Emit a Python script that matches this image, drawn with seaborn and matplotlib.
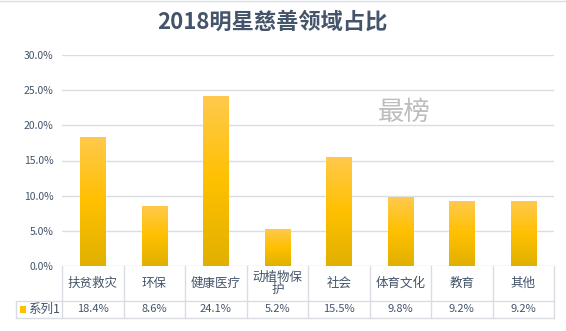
import numpy as np
import pandas as pd
import matplotlib
matplotlib.use("Agg")
import matplotlib.pyplot as plt
from matplotlib.colors import LinearSegmentedColormap
from matplotlib.transforms import blended_transform_factory
import seaborn as sns

# Data
categories = ["扶贫救灾", "环保", "健康医疗", "动植物保\n护", "社会", "体育文化", "教育", "其他"]
values = [0.184, 0.086, 0.241, 0.052, 0.155, 0.098, 0.092, 0.092]
value_labels = ["18.4%", "8.6%", "24.1%", "5.2%", "15.5%", "9.8%", "9.2%", "9.2%"]
yticks = [0.0, 0.05, 0.10, 0.15, 0.20, 0.25, 0.30]
ytick_labels = ["0.0%", "5.0%", "10.0%", "15.0%", "20.0%", "25.0%", "30.0%"]
series_name = "系列1"
title = "2018明星慈善领域占比"

sns.set_theme(style="white")
plt.rcParams["font.family"] = ["Noto Sans CJK SC", "DejaVu Sans"]

TEXT = "#44546A"
GRID = "#D9DDE3"

W, H = 566, 331
fig = plt.figure(figsize=(W / 100, H / 100), dpi=100)
ax = fig.add_axes([62 / W, (H - 266) / H, (554 - 62) / W, (266 - 55) / H])

df = pd.DataFrame({"cat": categories, "val": values})
sns.barplot(data=df, x="cat", y="val", ax=ax, color="#FFC000", width=0.41, saturation=1)

# Vertical gradient fill for each bar
cmap = LinearSegmentedColormap.from_list("gold", ["#E0B000", "#FFC000", "#FFC94D"])
grad = np.linspace(0, 1, 256).reshape(-1, 1)
for p in ax.patches:
    x0, y0 = p.get_x(), p.get_y()
    w, h = p.get_width(), p.get_height()
    im = ax.imshow(grad, cmap=cmap, aspect="auto", origin="lower",
                   extent=[x0, x0 + w, y0, y0 + h], zorder=p.get_zorder() + 0.1)
    im.set_clip_path(p)

ax.set_xlim(-0.5, len(categories) - 0.5)
ax.set_ylim(0, 0.30)
ax.set_yticks(yticks)
ax.set_yticklabels(ytick_labels, color=TEXT, fontsize=7.5)
ax.set_xticks([])
ax.set_xlabel("")
ax.set_ylabel("")
ax.tick_params(axis="y", length=0, pad=6)
for s in ax.spines.values():
    s.set_visible(False)
ax.yaxis.grid(True, color=GRID, linewidth=1)
ax.set_axisbelow(True)

# Title
fig.text(272 / W, 1 - 22 / H, title, ha="center", va="center", fontsize=16,
         fontweight="bold", color=TEXT)

# Watermark
ax.text(5.06, 0.219, "最榜", fontsize=19, color="#BDBDBD", ha="center", va="center")

# Data table below the axis
trans = blended_transform_factory(ax.transData, fig.transFigure)
def fy(py):
    return 1 - py / H

y_top, y_mid, y_bot = fy(266), fy(300.5), fy(318)
n = len(categories)
line_kw = dict(color=GRID, linewidth=1, clip_on=False)
for i in range(n + 1):
    ax.plot([i - 0.5, i - 0.5], [y_top, y_bot], transform=trans, **line_kw)
fig_trans = fig.transFigure
fig.add_artist(plt.Line2D([16 / W, 554 / W], [y_mid, y_mid], **line_kw))
fig.add_artist(plt.Line2D([16 / W, 554 / W], [y_bot, y_bot], **line_kw))
fig.add_artist(plt.Line2D([16 / W, 16 / W], [y_mid, y_bot], **line_kw))

for i, (c, v) in enumerate(zip(categories, value_labels)):
    ax.text(i, (y_top + y_mid) / 2, c, transform=trans, ha="center", va="center",
            fontsize=9, color=TEXT, linespacing=0.95)
    ax.text(i, (y_mid + y_bot) / 2, v, transform=trans, ha="center", va="center",
            fontsize=8, color=TEXT)

# Legend key in the table
fig.add_artist(plt.Rectangle((20 / W, fy(313)), 6 / W, 7 / H, transform=fig_trans,
                             facecolor="#FFC000", edgecolor="none"))
fig.text(28 / W, (y_mid + y_bot) / 2, series_name, ha="left", va="center",
         fontsize=9, color=TEXT)

# Outer chart border line at top
fig.add_artist(plt.Line2D([0, 1], [1 - 0.5 / H, 1 - 0.5 / H], color=GRID, linewidth=1))

fig.savefig("out.png", dpi=100)
